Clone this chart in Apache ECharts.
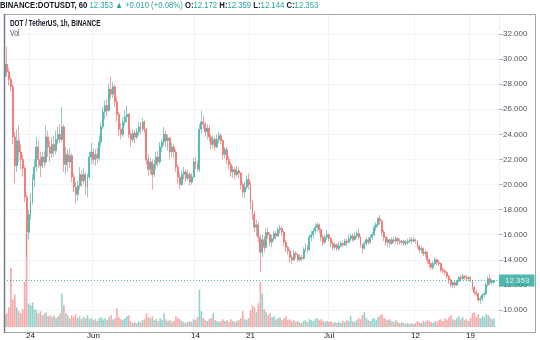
<!DOCTYPE html>
<html>
<head>
<meta charset="utf-8">
<title>DOT / TetherUS, 1h, BINANCE</title>
<script src="https://cdn.jsdelivr.net/npm/echarts@6/dist/echarts.min.js"></script>
<style>
  html, body { margin: 0; padding: 0; background: #ffffff; }
  #chart { width: 540px; height: 340px; }
</style>
</head>
<body>
<div id="chart"></div>
<script>
// ---- chart data -------------------------------------------------------
const symbolTitle = 'BINANCE:DOTUSDT, 60';
const paneTitle = 'DOT / TetherUS, 1h, BINANCE';
const volumeTitle = 'Vol';

// first bar opens 2021-05-20 18:00 UTC, one bar every 6 hours
const startTime = Date.UTC(2021, 4, 20, 18);
const barHours = 6;

// [open, close, low, high]
const candles = [
  [28.6,29.6,28.2,30.0],[29.6,29.0,28.6,31.0],[29.0,28.4,27.9,29.3],[28.4,27.8,27.4,28.6],
  [27.8,23.8,23.2,28.0],[23.8,21.5,20.1,24.2],[21.5,23.5,21.0,24.4],[23.5,22.6,21.8,24.7],
  [22.6,22.0,21.2,23.2],[22.0,21.3,20.6,22.4],[21.3,19.0,18.6,21.5],[19.0,16.2,14.2,19.2],
  [16.2,17.6,15.6,18.0],[17.6,18.6,17.2,19.3],[18.6,20.4,18.4,20.8],[20.4,21.4,19.8,22.0],
  [21.4,23.0,21.0,23.8],[23.0,22.0,21.3,23.5],[22.0,21.5,20.6,22.6],[21.5,22.2,21.3,22.6],
  [22.2,21.8,21.4,22.7],[21.8,23.8,21.6,24.7],[23.8,23.0,22.2,24.3],[23.0,22.5,21.8,23.5],
  [22.5,23.2,22.1,23.8],[23.2,22.7,22.2,23.9],[22.7,23.6,22.4,24.3],[23.6,24.0,23.2,24.6],
  [24.0,23.6,23.3,24.8],[23.6,24.6,23.4,26.2],[24.6,21.6,21.0,24.8],[21.6,22.4,20.8,23.0],
  [22.4,21.8,21.0,22.8],[21.8,22.3,21.3,22.9],[22.3,20.6,20.2,22.5],[20.6,19.8,19.4,20.9],
  [19.8,19.2,18.5,20.2],[19.2,19.9,18.7,20.3],[19.9,20.8,19.6,21.4],[20.8,20.3,19.8,21.1],
  [20.3,20.8,20.0,21.3],[20.8,19.8,19.2,21.0],[19.8,20.6,19.0,20.9],[20.6,22.2,20.4,22.6],
  [22.2,22.6,21.6,23.3],[22.6,22.0,21.6,22.9],[22.0,22.4,21.5,22.8],[22.4,22.1,21.7,22.9],
  [22.1,23.4,21.9,23.9],[23.4,24.6,23.1,24.9],[24.6,25.8,24.4,26.2],[25.8,26.3,25.2,26.7],
  [26.3,25.9,25.4,26.8],[25.9,27.6,25.8,28.0],[27.6,27.2,26.8,28.6],[27.2,27.8,26.9,28.2],
  [27.8,26.6,26.2,28.0],[26.6,25.6,25.0,27.0],[25.6,24.4,23.9,25.8],[24.4,24.0,23.6,24.9],
  [24.0,25.0,23.8,25.4],[25.0,25.4,24.7,25.9],[25.4,25.6,24.9,26.3],[25.6,24.0,23.7,25.7],
  [24.0,23.6,23.0,24.3],[23.6,24.1,23.4,24.4],[24.1,23.8,23.3,24.4],[23.8,24.2,23.6,24.5],
  [24.2,24.6,23.9,25.0],[24.6,24.4,24.0,25.0],[24.4,25.0,24.2,25.3],[25.0,24.4,24.1,25.1],
  [24.4,22.0,21.6,24.5],[22.0,21.2,20.7,22.4],[21.2,21.8,20.8,22.1],[21.8,20.8,19.6,22.0],
  [20.8,21.6,20.6,22.0],[21.6,22.2,21.2,22.6],[22.2,21.8,21.4,22.7],[21.8,23.0,21.6,23.4],
  [23.0,23.4,22.6,23.6],[23.4,24.0,23.1,24.6],[24.0,23.5,23.0,24.3],[23.5,23.7,22.7,24.0],
  [23.7,22.6,22.0,23.8],[22.6,23.0,22.2,23.3],[23.0,22.6,22.1,23.2],[22.6,21.4,21.0,22.8],
  [21.4,20.6,20.1,21.6],[20.6,20.0,19.6,20.9],[20.0,20.8,19.9,21.1],[20.8,21.0,20.4,21.4],
  [21.0,20.5,20.2,21.2],[20.5,20.8,20.3,21.2],[20.8,20.2,19.9,21.0],[20.2,20.6,20.0,20.9],
  [20.6,21.8,20.5,22.1],[21.8,21.6,21.2,22.2],[21.6,21.2,21.0,21.9],[21.2,24.4,21.0,24.8],
  [24.4,25.0,24.1,25.9],[25.0,24.8,24.4,25.5],[24.8,24.2,23.8,25.0],[24.2,24.5,23.6,24.8],
  [24.5,23.8,23.4,24.7],[23.8,23.2,22.8,24.0],[23.2,23.6,22.9,23.9],[23.6,23.0,22.7,23.8],
  [23.0,23.6,22.9,24.0],[23.6,23.9,23.3,24.2],[23.9,23.5,23.2,24.1],[23.5,22.4,22.0,23.6],
  [22.4,22.8,22.1,23.0],[22.8,22.0,21.6,23.0],[22.0,21.6,21.2,22.3],[21.6,21.0,20.6,21.8],
  [21.0,21.2,20.5,21.5],[21.2,20.8,20.4,21.4],[20.8,21.1,20.6,21.5],[21.1,20.9,20.5,21.4],
  [20.9,20.0,19.6,21.0],[20.0,19.4,19.0,20.2],[19.4,19.8,18.9,20.2],[19.8,20.4,19.6,20.7],
  [20.4,20.0,19.6,20.9],[20.0,18.6,18.0,20.2],[18.6,17.6,17.2,18.8],[17.6,16.6,16.2,17.9],
  [16.6,16.8,15.9,17.2],[16.8,15.8,15.4,17.0],[15.8,14.6,13.0,16.0],[14.6,15.6,14.2,16.0],
  [15.6,15.0,14.6,15.9],[15.0,16.2,14.9,16.5],[16.2,16.0,15.7,16.6],[16.0,15.4,15.1,16.2],
  [15.4,15.7,15.0,16.0],[15.7,16.1,15.5,16.3],[16.1,15.9,15.6,16.3],[15.9,16.4,15.8,16.6],
  [16.4,16.5,16.1,16.8],[16.5,16.2,15.9,16.7],[16.2,15.4,15.1,16.3],[15.4,15.0,14.6,15.6],
  [15.0,14.7,14.4,15.1],[14.7,14.2,13.8,14.8],[14.2,14.0,13.7,14.4],[14.0,14.5,13.9,14.8],
  [14.5,14.4,14.1,14.7],[14.4,14.0,13.8,14.5],[14.0,14.2,13.9,14.4],[14.2,14.1,13.9,14.4],
  [14.1,14.8,14.0,15.0],[14.8,15.0,14.6,15.3],[15.0,14.8,14.5,15.2],[14.8,15.8,14.7,16.0],
  [15.8,16.0,15.5,16.3],[16.0,16.3,15.7,16.5],[16.3,16.6,16.1,16.9],[16.6,16.8,16.3,17.0],
  [16.8,16.4,16.1,16.9],[16.4,15.8,15.5,16.5],[15.8,15.4,15.1,16.0],[15.4,15.8,15.2,16.0],
  [15.8,16.0,15.6,16.4],[16.0,15.7,15.5,16.1],[15.7,15.3,15.0,15.8],[15.3,15.0,14.8,15.5],
  [15.0,15.2,14.8,15.4],[15.2,14.9,14.7,15.3],[14.9,15.1,14.7,15.4],[15.1,15.3,15.0,15.5],
  [15.3,15.2,15.0,15.5],[15.2,15.5,15.1,15.7],[15.5,15.4,15.1,15.7],[15.4,15.7,15.3,16.0],
  [15.7,15.9,15.5,16.1],[15.9,15.6,15.4,16.1],[15.6,15.9,15.5,16.2],[15.9,16.1,15.7,16.3],
  [16.1,15.8,15.6,16.5],[15.8,15.2,15.0,15.9],[15.2,14.9,14.5,15.3],[14.9,15.3,14.8,15.5],
  [15.3,15.6,15.1,15.8],[15.6,15.4,15.2,15.8],[15.4,15.8,15.3,16.0],[15.8,16.0,15.6,16.2],
  [16.0,16.6,15.9,16.8],[16.6,16.8,16.3,17.0],[16.8,17.3,16.6,17.4],[17.3,17.1,16.8,17.6],
  [17.1,16.2,15.9,17.2],[16.2,15.8,15.5,16.4],[15.8,15.4,15.1,15.9],[15.4,15.6,15.0,15.8],
  [15.6,15.3,15.0,15.7],[15.3,15.6,15.2,15.8],[15.6,15.5,15.3,15.8],[15.5,15.7,15.3,15.9],
  [15.7,15.5,15.2,15.8],[15.5,15.4,15.2,15.7],[15.4,15.5,15.2,15.6],[15.5,15.3,15.1,15.6],
  [15.3,15.4,15.1,15.6],[15.4,15.5,15.2,15.7],[15.5,15.6,15.3,15.8],[15.6,15.5,15.3,15.8],
  [15.5,15.6,15.4,15.8],[15.6,15.5,15.3,15.7],[15.5,15.1,14.9,15.6],[15.1,14.8,14.6,15.2],
  [14.8,14.9,14.5,15.1],[14.9,14.5,14.3,15.0],[14.5,14.6,14.2,14.8],[14.6,14.0,13.7,14.7],
  [14.0,13.7,13.4,14.1],[13.7,13.4,13.2,13.8],[13.4,13.7,13.2,13.9],[13.7,14.0,13.6,14.2],
  [14.0,13.8,13.5,14.1],[13.8,13.7,13.5,14.0],[13.7,13.2,13.0,13.8],[13.2,13.1,12.9,13.4],
  [13.1,13.0,12.8,13.3],[13.0,12.7,12.5,13.1],[12.7,12.4,12.1,12.8],[12.4,12.0,11.8,12.5],
  [12.0,12.2,11.75,12.3],[12.2,12.0,11.8,12.3],[12.0,12.3,11.9,12.4],[12.3,12.6,12.2,12.7],
  [12.6,12.5,12.3,12.8],[12.5,12.7,12.4,12.9],[12.7,12.6,12.4,12.8],[12.6,12.5,12.3,12.8],
  [12.5,12.6,12.3,12.7],[12.6,12.3,12.2,12.7],[12.3,11.8,11.6,12.4],[11.8,11.4,11.2,11.9],
  [11.4,11.3,11.1,11.6],[11.3,10.8,10.6,11.4],[10.8,10.9,10.5,11.1],[10.9,11.2,10.7,11.3],
  [11.2,11.3,11.0,11.5],[11.3,12.0,11.2,12.2],[12.0,12.5,11.9,12.7],[12.5,12.2,12.0,12.9],
  [12.2,12.343,12.0,12.45],[12.172,12.353,12.144,12.359]
];

// traded volume per bar (relative units)
const volumes = [
  12,14,20,60,28,33,20,16,14,18,46,95,24,22,25,18,17,14,16,12,
  13,15,11,12,10,12,9,11,14,34,22,14,12,9,12,10,13,9,11,8,
  10,9,12,8,9,7,8,6,9,10,8,9,7,10,12,8,9,19,10,8,
  7,9,11,12,6,4,5,4,6,5,7,8,14,10,9,11,7,8,6,9,
  7,14,8,6,7,5,6,11,9,8,6,5,4,5,6,5,8,7,10,38,
  16,9,7,6,8,9,14,7,6,5,6,8,6,7,5,8,6,5,6,7,
  9,16,8,7,9,17,22,20,15,24,46,34,18,15,12,14,10,11,8,9,
  10,7,9,11,7,8,6,7,5,6,5,4,6,7,5,8,7,6,8,9,
  7,8,6,5,6,5,6,4,5,4,5,4,6,5,7,6,11,6,5,7,
  9,8,12,15,9,7,6,8,9,7,10,12,13,9,8,7,8,6,5,7,
  5,4,5,4,3,4,3,4,3,4,6,5,4,6,5,7,6,5,4,6,
  5,7,8,6,9,7,10,12,8,7,9,11,8,10,7,8,6,9,14,15,
  10,13,9,11,10,13,12,10,8,9
];
const volumeScaleMax = 318;

// price scale
const priceMin = 8;
const priceMax = 34;
const priceStep = 2;

// time scale labels
const timeLabels = ['24', 'Jun', '14', '21', 'Jul', '12', '19'];
const timeLabelDates = ['2021-05-24', '2021-06-01', '2021-06-14', '2021-06-21', '2021-07-01', '2021-07-12', '2021-07-19'];

// ---- styling ----------------------------------------------------------
const UP = '#26a69a';
const DOWN = '#ef5350';
const UP_VOL = 'rgba(38,166,154,0.5)';
const DOWN_VOL = 'rgba(239,83,80,0.5)';
const TEXT = '#131722';
const GRID_LINE = '#f0f3fa';
const FONT = '"Liberation Sans", Arial, sans-serif';

// ---- derived structures -----------------------------------------------
const BAR_MS = barHours * 3600 * 1000;
const slotCount = candles.length + 2;            // small empty gap at the right edge
const slots = [];
for (let i = 0; i < slotCount; i++) slots.push(String(startTime + i * BAR_MS));

const labelBySlot = {};
timeLabelDates.forEach((d, k) => {
  const idx = Math.round((Date.parse(d + 'T00:00:00Z') - startTime) / BAR_MS);
  labelBySlot[idx] = timeLabels[k];
});
const isLabelSlot = (idx) => Object.prototype.hasOwnProperty.call(labelBySlot, idx);

const volumeData = volumes.map((v, i) => ({
  value: v,
  itemStyle: { color: candles[i][1] >= candles[i][0] ? UP_VOL : DOWN_VOL }
}));

const last = candles[candles.length - 1];
const prev = candles[candles.length - 2];
const change = last[1] - prev[1];
const changePct = change / prev[1] * 100;
const sign = change >= 0 ? '+' : '−';
const arrow = change >= 0 ? '▲' : '▼';
const fmt = (v) => v.toFixed(3);

const headerText =
  '{sym|' + symbolTitle + '} ' +
  '{val|' + fmt(last[1]) + ' ' + arrow + ' ' + sign + fmt(Math.abs(change)) +
  ' (' + sign + Math.abs(changePct).toFixed(2) + '%)} ' +
  '{key|O:}{val|' + fmt(last[0]) + '} ' +
  '{key|H:}{val|' + fmt(last[3]) + '} ' +
  '{key|L:}{val|' + fmt(last[2]) + '} ' +
  '{key|C:}{val|' + fmt(last[1]) + '}';

// ---- chart ------------------------------------------------------------
const chart = echarts.init(document.getElementById('chart'), null, { renderer: 'canvas' });

// pane geometry: plot spans x 4..499, frame spans y 14..332
const PLOT_LEFT = 4;
const PLOT_RIGHT = 41;
const FRAME_TOP = 14;
const FRAME_BOTTOM = 332;
const PX_PER_UNIT = 12.545;
const priceGridTop = 310 - (priceMax - 10) * PX_PER_UNIT;
const priceGridHeight = (priceMax - priceMin) * PX_PER_UNIT;

chart.setOption({
  animation: false,
  backgroundColor: '#ffffff',
  textStyle: { fontFamily: FONT },
  grid: [
    { left: PLOT_LEFT, right: PLOT_RIGHT, top: priceGridTop, height: priceGridHeight },
    { left: PLOT_LEFT, right: PLOT_RIGHT, top: FRAME_TOP, height: FRAME_BOTTOM - FRAME_TOP }
  ],
  xAxis: [
    {
      type: 'category', gridIndex: 0, data: slots, boundaryGap: true, show: false
    },
    {
      type: 'category', gridIndex: 1, data: slots, boundaryGap: true,
      axisLine: { show: false },
      axisTick: { show: false },
      splitLine: {
        show: true,
        interval: (idx) => isLabelSlot(idx),
        lineStyle: { color: GRID_LINE, width: 1 }
      },
      axisLabel: {
        interval: (idx) => isLabelSlot(idx),
        formatter: (val, idx) => labelBySlot[idx] || '',
        color: TEXT,
        fontSize: 8,
        margin: 5
      }
    }
  ],
  yAxis: [
    {
      type: 'value', gridIndex: 0, position: 'right',
      min: priceMin, max: priceMax, interval: priceStep,
      axisLine: { show: false },
      axisTick: { show: true, length: 4, lineStyle: { color: '#b2b5be' } },
      splitLine: { show: true, showMinLine: false, showMaxLine: false, lineStyle: { color: GRID_LINE, width: 1 } },
      axisLabel: {
        showMinLabel: false, showMaxLabel: false,
        formatter: (v) => v.toFixed(3),
        color: '#50535e', fontSize: 8, margin: 4
      }
    },
    {
      type: 'value', gridIndex: 1, min: 0, max: volumeScaleMax, show: false,
      splitLine: { show: false }
    }
  ],
  series: [
    {
      name: 'Volume', type: 'bar', xAxisIndex: 1, yAxisIndex: 1,
      data: volumeData, barWidth: 1.6, z: 1, silent: true
    },
    {
      name: 'DOTUSDT', type: 'candlestick', xAxisIndex: 0, yAxisIndex: 0,
      data: candles, barWidth: 1.4, z: 3,
      itemStyle: {
        color: UP, color0: DOWN, borderColor: UP, borderColor0: DOWN,
        borderWidth: 0.6, opacity: 0.9
      },
      markLine: {
        silent: true, symbol: ['none', 'none'],
        data: [{
          yAxis: last[1],
          lineStyle: { type: [1, 2], color: UP, width: 1, opacity: 0.8 },
          label: {
            show: true, position: 'end', distance: 0,
            formatter: () => fmt(last[1]),
            backgroundColor: UP, color: '#ffffff', fontSize: 8,
            padding: [2, 5, 2, 6]
          }
        }]
      }
    }
  ],
  graphic: [
    {
      type: 'rect', z: 10, silent: true,
      shape: { x: PLOT_LEFT + 0.5, y: FRAME_TOP + 0.5, width: 535 - PLOT_LEFT, height: FRAME_BOTTOM - FRAME_TOP },
      style: { fill: 'none', stroke: '#a3a6af', lineWidth: 1 }
    },
    {
      type: 'line', z: 11, silent: true,
      shape: { x1: PLOT_LEFT + 0.5, y1: FRAME_TOP, x2: PLOT_LEFT + 0.5, y2: FRAME_BOTTOM + 1 },
      style: { stroke: '#787b86', lineWidth: 1.5 }
    },
    {
      type: 'text', z: 12, x: 0, y: 1, scaleX: 0.86,
      style: {
        text: headerText,
        fontFamily: FONT, fontSize: 9, verticalAlign: 'top',
        rich: {
          sym: { fontFamily: FONT, fontSize: 9, fontWeight: 'bold', fill: TEXT },
          key: { fontFamily: FONT, fontSize: 9, fontWeight: 'bold', fill: TEXT },
          val: { fontFamily: FONT, fontSize: 9, fill: UP }
        }
      }
    },
    {
      type: 'text', z: 12, x: 10, y: 19, scaleX: 0.71,
      style: { text: paneTitle, fontFamily: FONT, fontSize: 9, fontWeight: 'bold', fill: TEXT, verticalAlign: 'top' }
    },
    {
      type: 'text', z: 12, x: 10, y: 29, scaleX: 0.8,
      style: { text: volumeTitle, fontFamily: FONT, fontSize: 8.5, fill: '#50535e', verticalAlign: 'top' }
    }
  ]
});
</script>
</body>
</html>
